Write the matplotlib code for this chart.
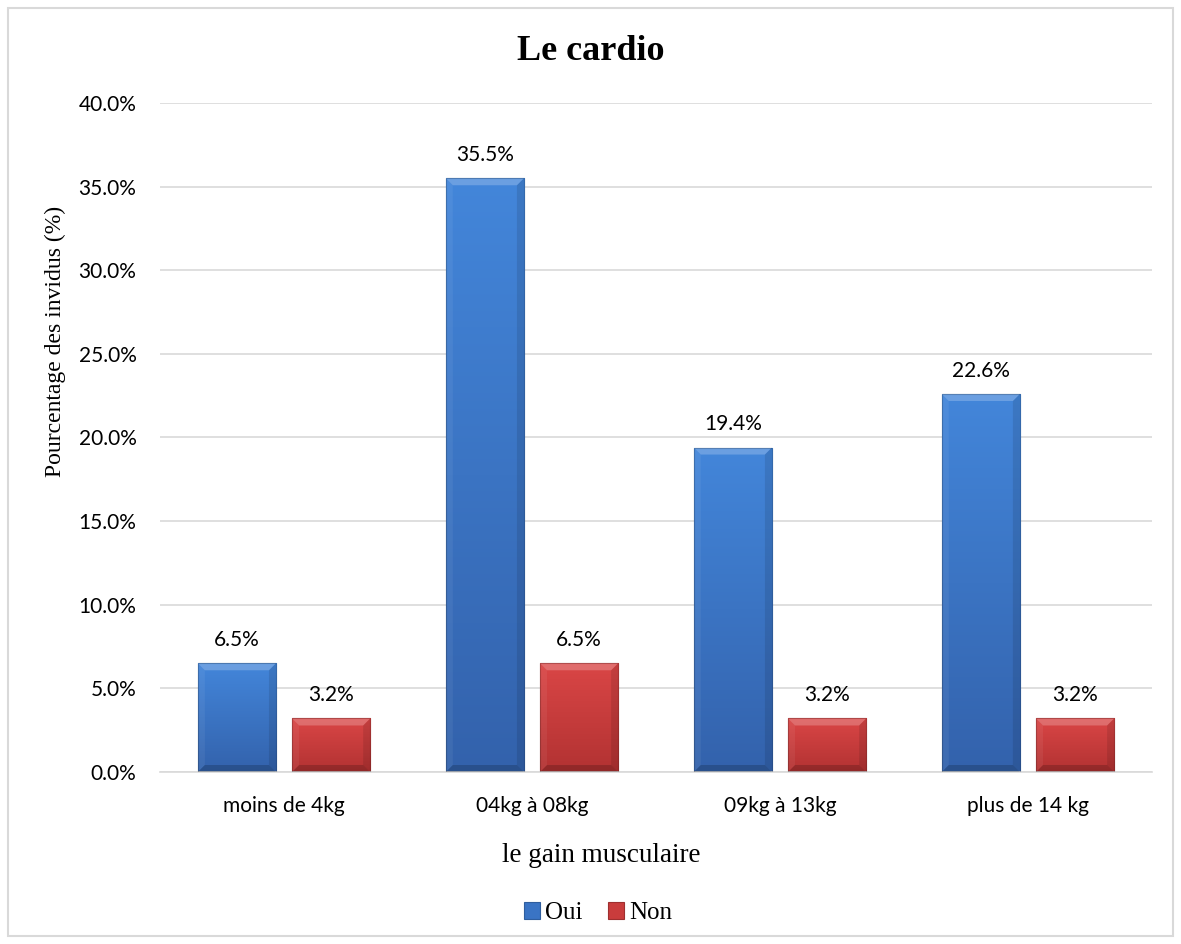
import numpy as np
import matplotlib.pyplot as plt
from matplotlib.patches import Polygon, Rectangle
from matplotlib.colors import LinearSegmentedColormap

# data
categories = ["moins de 4kg", "04kg à 08kg", "09kg à 13kg", "plus de 14 kg"]
oui = [6.5, 35.5, 19.4, 22.6]
non = [3.2, 6.5, 3.2, 3.2]

blue_top, blue_bot = "#4386DA", "#3362AC"
red_top, red_bot = "#DA4646", "#B23232"

fig = plt.figure(figsize=(11.81, 9.44), dpi=100)
ax = fig.add_axes([0.1355, 0.1822, 0.9754 - 0.1355, 0.8909 - 0.1822])

# outer frame
fig.patches.append(Rectangle((0.007, 0.009), 0.986, 0.983, transform=fig.transFigure,
                             fill=False, edgecolor="#d9d9d9", linewidth=1.5))

x = np.arange(len(categories))
w = 0.315
off = 0.19
bars_o = ax.bar(x - off, oui, w, color="#3A74C4", edgecolor="#2F5E9E", linewidth=0.8, zorder=2)
bars_n = ax.bar(x + off, non, w, color="#C93C3C", edgecolor="#9E2F2F", linewidth=0.8, zorder=2)

ax.set_xlim(-0.5, 3.5)
ax.set_ylim(0, 40)
fig.canvas.draw()

# bevel / gradient effect on bars
ax_w = ax.get_window_extent().width
ax_h = ax.get_window_extent().height
dx = 7 * 4.0 / ax_w
dy = 7 * 40.0 / ax_h
grad = np.linspace(1, 0, 256).reshape(-1, 1)


def bevel(bars, top, bot):
    cmap = LinearSegmentedColormap.from_list("g", [bot, top])
    for b in bars:
        x0, y0 = b.get_x(), b.get_y()
        x1, y1 = x0 + b.get_width(), y0 + b.get_height()
        im = ax.imshow(grad, extent=[x0, x1, y0, y1], aspect="auto", cmap=cmap,
                       vmin=0, vmax=1, zorder=2.5, interpolation="bilinear")
        im.set_clip_path(b)
        sides = [
            ([(x0, y1), (x1, y1), (x1 - dx, y1 - dy), (x0 + dx, y1 - dy)], "white", 0.22),
            ([(x0, y0), (x0, y1), (x0 + dx, y1 - dy), (x0 + dx, y0 + dy)], "white", 0.06),
            ([(x1, y0), (x1, y1), (x1 - dx, y1 - dy), (x1 - dx, y0 + dy)], "black", 0.10),
            ([(x0, y0), (x1, y0), (x1 - dx, y0 + dy), (x0 + dx, y0 + dy)], "black", 0.18),
        ]
        for pts, col, a in sides:
            ax.add_patch(Polygon(pts, closed=True, facecolor=col, alpha=a, edgecolor="none", zorder=3))
        ax.add_patch(Rectangle((x0, y0), x1 - x0, y1 - y0, fill=False, edgecolor="black",
                               alpha=0.2, linewidth=0.8, zorder=3.5))


bevel(bars_o, blue_top, blue_bot)
bevel(bars_n, red_top, red_bot)
ax.set_xlim(-0.5, 3.5)
ax.set_ylim(0, 40)

# value labels
for vals, xs in [(oui, x - off), (non, x + off)]:
    for xi, v in zip(xs, vals):
        ax.text(xi, v + 1.38, f"{v:.1f}%", ha="center", va="center",
                fontsize=15, family="Lato", color="#000000")

ax.set_yticks(np.arange(0, 41, 5))
ax.set_yticklabels([f"{t:.1f}%" for t in np.arange(0, 41, 5)], family="Lato", fontsize=15)
ax.set_xticks(x)
ax.set_xticklabels(categories, family="Lato", fontsize=15)
ax.tick_params(axis="y", length=0, pad=17)
ax.tick_params(axis="x", length=0, pad=17)
ax.grid(axis="y", color="#d9d9d9", linewidth=1.2, zorder=0)
for s in ["top", "right", "left"]:
    ax.spines[s].set_visible(False)
ax.spines["bottom"].set_color("#d9d9d9")
ax.spines["bottom"].set_linewidth(1.2)

fig.text(55 / 1181, 1 - 341 / 944, "Pourcentage des invidus (%)", rotation=90, ha="center",
         va="center", family="Liberation Serif", fontsize=17)
fig.text(601 / 1181, 1 - 856 / 944, "le gain musculaire", ha="center", va="center",
         family="Liberation Serif", fontsize=19.5)
fig.text(0.5, 1 - 52 / 944, "Le cardio", ha="center", va="center", family="Liberation Serif",
         fontsize=26, fontweight="bold")

leg = fig.legend([bars_o[0], bars_n[0]], ["Oui", "Non"], loc="center",
                 bbox_to_anchor=(598 / 1181, 1 - 913 / 944),
                 ncol=2, frameon=False, prop={"family": "Liberation Serif", "size": 18},
                 handlelength=0.65, handleheight=0.65, handletextpad=0.2, columnspacing=1.0)

plt.savefig("out.png", dpi=100)
